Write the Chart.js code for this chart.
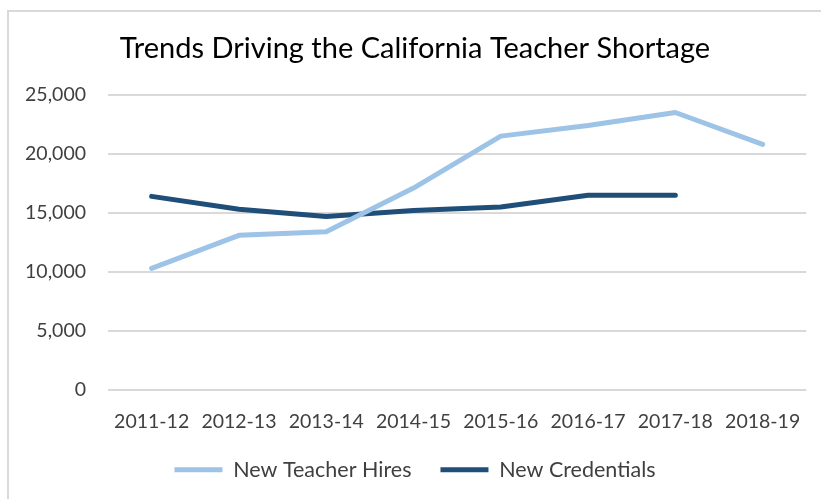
<!DOCTYPE html>
<html lang="en">
<head>
  <meta charset="UTF-8">
  <title>Trends Driving the California Teacher Shortage</title>
  <script src="https://cdn.jsdelivr.net/npm/chart.js"></script>
  <style>
    html, body { margin: 0; padding: 0; background: #fff; }
    #wrap { position: relative; width: 821px; height: 499px; }
  </style>
</head>
<body>
  <div id="wrap">
    <canvas id="myChart" width="821" height="499"></canvas>
  </div>

  <script>
    const years = ['2011-12', '2012-13', '2013-14', '2014-15', '2015-16', '2016-17', '2017-18', '2018-19'];
    const newTeacherHires = [10300, 13100, 13400, 17100, 21500, 22400, 23500, 20800];
    const newCredentials = [16400, 15300, 14700, 15200, 15500, 16500, 16500, null];

    const FONT = 'Lato';

    // light grey frame around the chart, clipped on the right and bottom like the original
    const framePlugin = {
      id: 'frame',
      beforeDraw(chart) {
        const ctx = chart.ctx;
        ctx.save();
        ctx.fillStyle = '#fff';
        ctx.fillRect(0, 0, chart.width, chart.height);
        ctx.strokeStyle = '#D9D9D9';
        ctx.lineWidth = 2;
        ctx.strokeRect(8, 11, 900, 600);
        ctx.restore();
      }
    };

    const ctx = document.getElementById('myChart').getContext('2d');
    const myChart = new Chart(ctx, {
      type: 'line',
      data: {
        labels: years,
        datasets: [{
          label: 'New Teacher Hires',
          data: newTeacherHires,
          borderColor: '#9DC3E6',
          backgroundColor: '#9DC3E6',
          borderWidth: 5,
          borderCapStyle: 'round',
          borderJoinStyle: 'round',
          pointRadius: 0,
          tension: 0
        }, {
          label: 'New Credentials',
          data: newCredentials,
          borderColor: '#1F4E79',
          backgroundColor: '#1F4E79',
          borderWidth: 5,
          borderCapStyle: 'round',
          borderJoinStyle: 'round',
          pointRadius: 0,
          tension: 0
        }]
      },
      options: {
        responsive: false,
        animation: false,
        layout: { padding: { left: 22, right: 13, top: 31, bottom: 8.5 } },
        plugins: {
          title: {
            display: true,
            text: 'Trends Driving the California Teacher Shortage',
            color: '#000',
            font: { family: FONT, size: 29, weight: 'normal' },
            padding: { top: 0, bottom: 29 }
          },
          legend: {
            position: 'bottom',
            labels: {
              color: '#404040',
              font: { family: FONT, size: 21.5 },
              usePointStyle: true,
              pointStyle: 'line',
              pointStyleWidth: 48,
              padding: 29
            }
          },
          tooltip: { enabled: false }
        },
        scales: {
          x: {
            offset: true,
            grid: { display: false, drawTicks: false },
            border: { display: false },
            ticks: {
              color: '#404040',
              font: { family: FONT, size: 19.5 },
              padding: 20,
              maxRotation: 0,
              autoSkip: false
            },
            afterFit(axis) { axis.height = 40; }
          },
          y: {
            min: 0,
            max: 25000,
            grid: { color: '#D9D9D9', lineWidth: 2, drawTicks: false },
            border: { display: false },
            ticks: {
              stepSize: 5000,
              color: '#404040',
              font: { family: FONT, size: 19.5 },
              padding: 22,
              callback: v => v.toLocaleString('en-US')
            },
            afterFit(axis) { axis.width = 86; }
          }
        }
      },
      plugins: [framePlugin]
    });
  </script>
</body>
</html>
